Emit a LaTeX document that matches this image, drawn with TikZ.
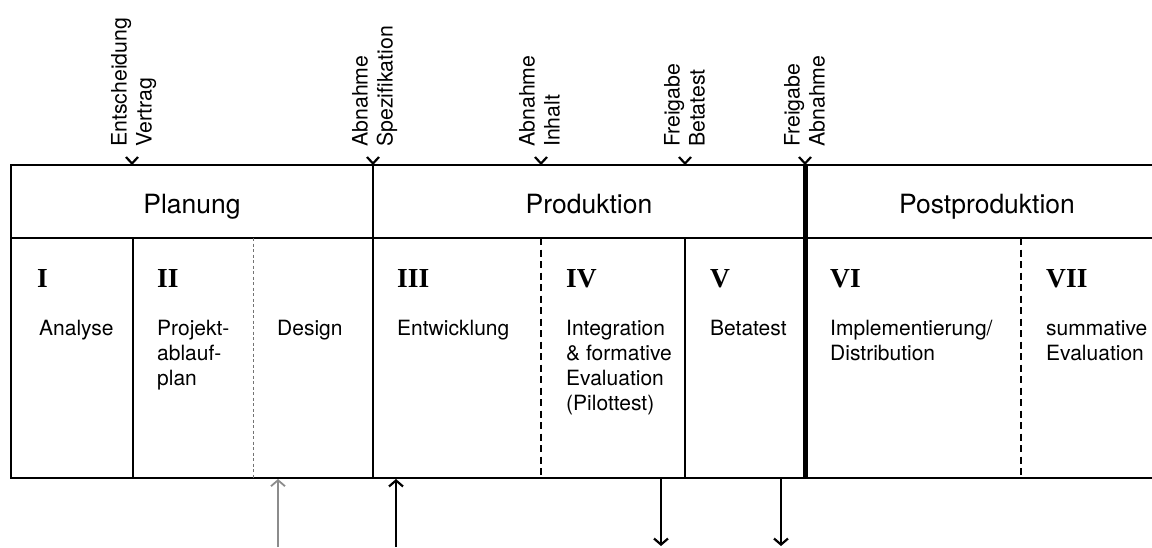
\documentclass[tikz,border=0pt]{standalone}
\usepackage{fontspec}
\setmainfont{TeX Gyre Heros}
\newfontfamily\numfont{Liberation Serif}
\usetikzlibrary{arrows.meta}

\begin{document}
\begin{tikzpicture}[x=1pt,y=-1pt,
  frame/.style={line width=2.8pt},
  thinsep/.style={line width=1.2pt},
  midsep/.style={line width=2.3pt},
  heavysep/.style={line width=5pt},
  dashsep/.style={line width=1.5pt, dash pattern=on 7pt off 4.5pt},
  greysep/.style={line width=1pt, draw=black!55, dash pattern=on 3pt off 2.5pt},
  milestone/.style={rotate=90, anchor=north west, inner sep=0pt, align=left,
    font=\fontsize{21.3}{25}\selectfont},
  tick/.style={line width=2.2pt},
  phase/.style={anchor=base, inner sep=0pt, font=\fontsize{26.5}{30}\selectfont},
  numeral/.style={anchor=base west, inner sep=0pt, font=\numfont\bfseries\fontsize{27.5}{30}\selectfont},
  stage/.style={anchor=north west, inner sep=0pt, align=left, font=\fontsize{21}{25}\selectfont},
  link/.style={line width=2.2pt, -{Straight Barb[length=6pt,width=14pt]}},
  greylink/.style={line width=1.8pt, draw=black!45, -{Straight Barb[length=6pt,width=14pt]}}
]
\useasboundingbox (0,0) rectangle (1152,547);

% frame of the process table (open to the right)
\draw[frame] (1152,165) -- (11,165) -- (11,478) -- (1152,478);
\draw[frame] (11,238) -- (1152,238);

% column separators
\draw[thinsep]  (133,238) -- (133,478);
\draw[greysep]  (253,238) -- (253,478);
\draw[midsep]   (373,165) -- (373,478);
\draw[dashsep]  (541,238) -- (541,478);
\draw[midsep]   (685,238) -- (685,478);
\draw[heavysep] (805,165) -- (805,478);
\draw[dashsep]  (1021,238) -- (1021,478);

% milestones above the table
\foreach \m/\n in {132/m1, 373/m2, 541/m3, 685/m4, 805/m5}{
  \coordinate (\n) at (\m,163.5);
  \draw[tick] (\m-6,157) -- (\n) -- (\m+6,157);
}
\node[milestone] (ms1) at (132-23,147) {\strut Entscheidung\\Vertrag};
\node[milestone] (ms2) at (373-23,147) {\strut Abnahme\\Spezifikation};
\node[milestone] (ms3) at (541-24,147) {\strut Abnahme\\Inhalt};
\node[milestone] (ms4) at (685-23,147) {\strut Freigabe\\Betatest};
\node[milestone] (ms5) at (805-23,147) {\strut Freigabe\\Abnahme};

% phases
\node[phase] (planung) at (192,213) {Planung};
\node[phase] (produktion) at (589,213) {Produktion};
\node[phase] (post) at (987,213) {Postproduktion};

% stages
\node[numeral] (n1) at (37,287) {I};
\node[numeral] (n2) at (157,287) {II};
\node[numeral] (n3) at (397,287) {III};
\node[numeral] (n4) at (566,287) {IV};
\node[numeral] (n5) at (710,287) {V};
\node[numeral] (n6) at (830,287) {VI};
\node[numeral] (n7) at (1046,287) {VII};

\node[stage] (s1) at (39,317.5) {\strut Analyse};
\node[stage] (s2) at (157,317.5) {\strut Projekt-\\ablauf-\\plan};
\node[stage] (s2b) at (277,317.5) {\strut Design};
\node[stage] (s3) at (397,317.5) {\strut Entwicklung};
\node[stage] (s4) at (566,317.5) {\strut Integration\\\& formative\\Evaluation\\(Pilottest)};
\node[stage] (s5) at (710,317.5) {\strut Betatest};
\node[stage] (s6) at (830,317.5) {\strut Implementierung/\\Distribution};
\node[stage] (s7) at (1046,317.5) {\strut summative\\Evaluation};

% inputs and outputs below the table
\coordinate (in1)  at (278,547);  \coordinate (in1t) at (278,479);
\coordinate (in2)  at (396,547);  \coordinate (in2t) at (396,479);
\coordinate (out1) at (661,479);  \coordinate (out1t) at (661,546);
\coordinate (out2) at (781,479);  \coordinate (out2t) at (781,546);
\draw[greylink] (in1) -- (in1t);
\draw[link] (in2) -- (in2t);
\draw[link] (out1) -- (out1t);
\draw[link] (out2) -- (out2t);
\end{tikzpicture}
\end{document}
